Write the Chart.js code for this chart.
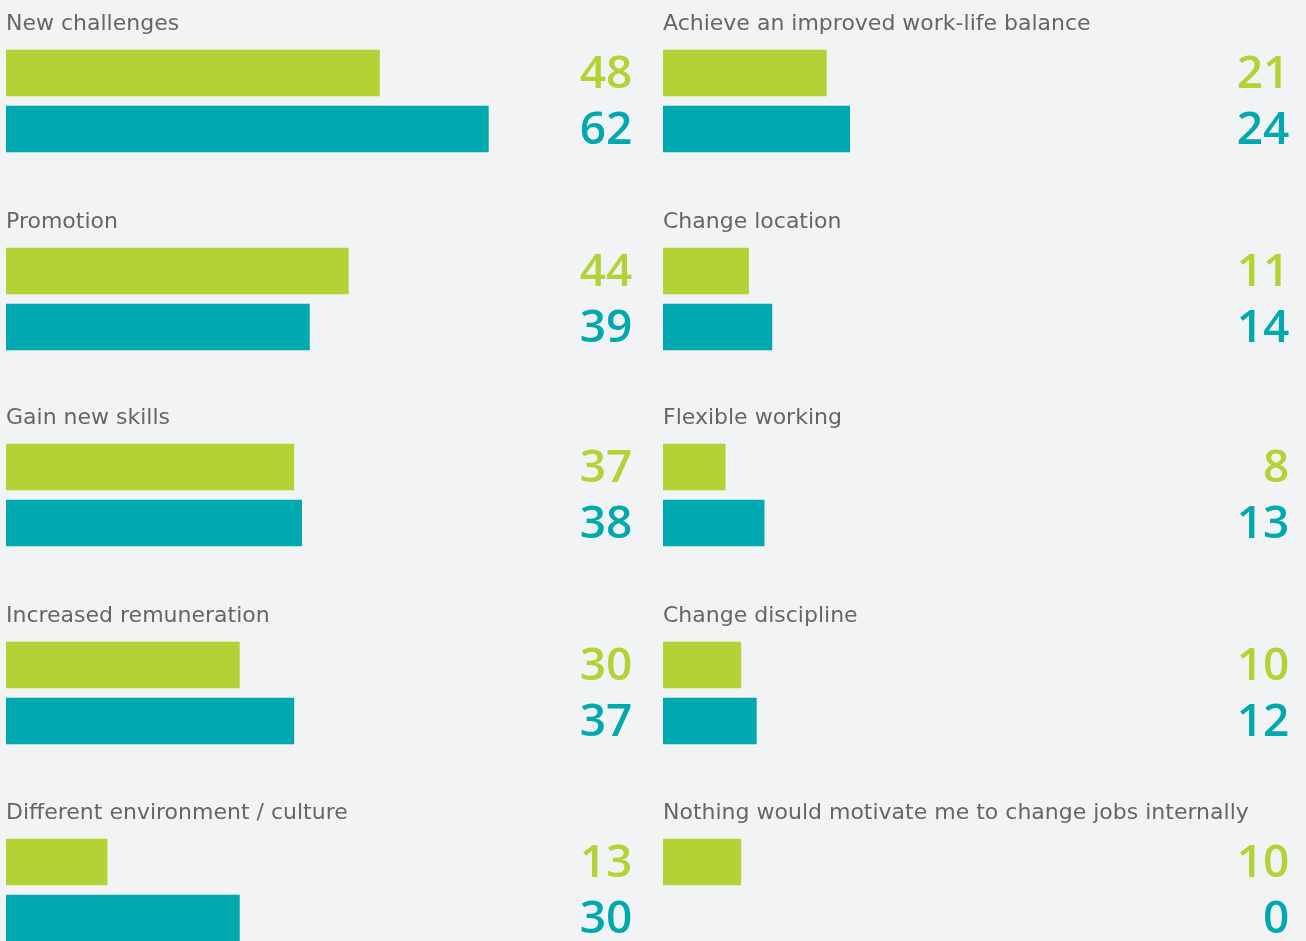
<!DOCTYPE html>
<html>
<head>
<meta charset="utf-8">
<script src="https://cdn.jsdelivr.net/npm/chart.js@4.4.1/dist/chart.umd.min.js"></script>
<style>
  html, body { margin: 0; padding: 0; background: #f2f3f5; width: 1306px; height: 941px; overflow: hidden; }
  #wrap { position: relative; width: 1306px; height: 941px; }
  canvas { position: absolute; }
</style>
</head>
<body>
<div id="wrap"></div>
<script>
// ---- data ----
const categories = [
  "New challenges",
  "Promotion",
  "Gain new skills",
  "Increased remuneration",
  "Different environment / culture",
  "Achieve an improved work-life balance",
  "Change location",
  "Flexible working",
  "Change discipline",
  "Nothing would motivate me to change jobs internally"
];
const seriesGreen = [48, 44, 37, 30, 13, 21, 11, 8, 10, 10];
const seriesTeal  = [62, 39, 38, 37, 30, 24, 14, 13, 12, 0];

// ---- styles / layout ----
const GREEN = "#b3d236";
const TEAL = "#00a9af";
const COLORS = [GREEN, TEAL];
const TITLE_COLOR = "#666666";
const rowTops = [0, 198, 394, 592, 789];
const colLefts = [0, 657];
const colWidths = [650, 649];
const CANVAS_H = 160;
const X_MAX = 80;
const AREA_W = 622.4;

const valueLabels = {
  id: "valueLabels",
  afterDatasetsDraw(chart) {
    const ctx = chart.ctx;
    const meta = chart.getDatasetMeta(0);
    const ds = chart.data.datasets[0];
    ctx.save();
    ctx.font = "600 46px 'Open Sans', sans-serif";
    ctx.textAlign = "right";
    ctx.textBaseline = "middle";
    meta.data.forEach((bar, i) => {
      ctx.fillStyle = COLORS[i];
      ctx.fillText(String(ds.data[i]), chart.chartArea.right + 4, bar.y + 2);
    });
    ctx.restore();
  }
};

const wrap = document.getElementById("wrap");
categories.forEach((cat, idx) => {
  const col = idx < 5 ? 0 : 1;
  const row = idx % 5;
  const cv = document.createElement("canvas");
  const w = colWidths[col];
  cv.width = w;
  cv.height = CANVAS_H;
  cv.style.left = colLefts[col] + "px";
  cv.style.top = rowTops[row] + "px";
  cv.style.width = w + "px";
  cv.style.height = CANVAS_H + "px";
  wrap.appendChild(cv);
  new Chart(cv, {
    type: "bar",
    data: {
      labels: ["", ""],
      datasets: [{
        data: [seriesGreen[idx], seriesTeal[idx]],
        backgroundColor: (c) => (c.raw === 0 ? "rgba(0,0,0,0)" : COLORS[c.dataIndex]),
        borderWidth: 0,
        barThickness: 46,
        categoryPercentage: 1,
        barPercentage: 1
      }]
    },
    options: {
      indexAxis: "y",
      responsive: false,
      animation: false,
      devicePixelRatio: 1,
      layout: { padding: { left: 6, right: w - 6 - AREA_W, top: 0, bottom: 3 } },
      scales: {
        x: { display: false, min: 0, max: X_MAX },
        y: { display: false }
      },
      plugins: {
        legend: { display: false },
        tooltip: { enabled: false },
        title: {
          display: true,
          text: cat,
          align: "start",
          color: TITLE_COLOR,
          font: { family: "'DejaVu Sans', sans-serif", size: 22, weight: "normal", lineHeight: 1.2 },
          padding: { top: 10.8, bottom: 7.8 }
        }
      }
    },
    plugins: [valueLabels]
  });
});
</script>
</body>
</html>
